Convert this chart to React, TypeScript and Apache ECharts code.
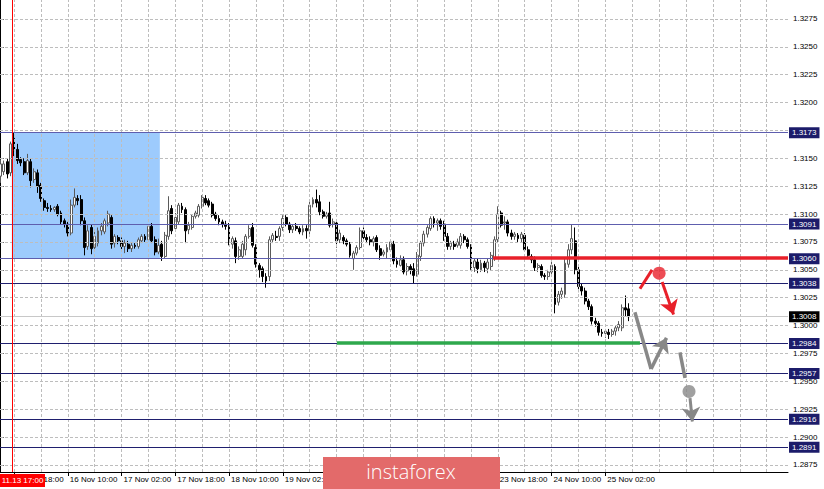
import React, { useEffect, useRef } from "react";
import * as echarts from "echarts";

// [open, close, low, high] per hourly bar
const candles: number[][] = [
  [1.3134,1.3145,1.3128,1.3149],[1.3138,1.3145,1.3135,1.3148],[1.3147,1.3136,1.3132,1.3150],[1.3137,1.3163,1.3134,1.3165],
  [1.3168,1.3157,1.3152,1.3173],[1.3158,1.3148,1.3145,1.3163],[1.3149,1.3146,1.3143,1.3151],[1.3147,1.3137,1.3135,1.3150],
  [1.3137,1.3148,1.3135,1.3154],[1.3147,1.3130,1.3124,1.3150],[1.3131,1.3138,1.3128,1.3141],[1.3137,1.3125,1.3119,1.3140],
  [1.3126,1.3114,1.3111,1.3128],[1.3112,1.3106,1.3103,1.3114],[1.3106,1.3105,1.3102,1.3110],[1.3105,1.3104,1.3102,1.3108],
  [1.3104,1.3106,1.3102,1.3107],[1.3107,1.3100,1.3098,1.3109],[1.3101,1.3093,1.3091,1.3103],[1.3094,1.3091,1.3088,1.3096],
  [1.3091,1.3083,1.3080,1.3093],[1.3083,1.3108,1.3081,1.3113],[1.3108,1.3115,1.3106,1.3123],[1.3114,1.3112,1.3108,1.3117],
  [1.3113,1.3094,1.3090,1.3117],[1.3094,1.3070,1.3063,1.3097],[1.3071,1.3085,1.3068,1.3090],[1.3088,1.3069,1.3064,1.3091],
  [1.3070,1.3080,1.3066,1.3084],[1.3074,1.3085,1.3071,1.3088],[1.3085,1.3089,1.3081,1.3092],[1.3084,1.3094,1.3082,1.3096],
  [1.3092,1.3100,1.3089,1.3103],[1.3097,1.3073,1.3069,1.3099],[1.3074,1.3080,1.3070,1.3082],[1.3079,1.3076,1.3073,1.3081],
  [1.3076,1.3071,1.3068,1.3079],[1.3071,1.3074,1.3065,1.3077],[1.3073,1.3069,1.3066,1.3076],[1.3069,1.3072,1.3066,1.3074],
  [1.3072,1.3071,1.3069,1.3074],[1.3071,1.3077,1.3069,1.3079],[1.3076,1.3080,1.3074,1.3082],[1.3080,1.3077,1.3075,1.3082],
  [1.3077,1.3089,1.3075,1.3091],[1.3089,1.3076,1.3074,1.3092],[1.3077,1.3066,1.3063,1.3080],[1.3066,1.3072,1.3064,1.3078],
  [1.3073,1.3062,1.3058,1.3076],[1.3062,1.3081,1.3060,1.3084],[1.3080,1.3103,1.3077,1.3116],[1.3105,1.3085,1.3082,1.3108],
  [1.3087,1.3097,1.3084,1.3101],[1.3093,1.3108,1.3091,1.3110],[1.3107,1.3104,1.3101,1.3110],[1.3104,1.3085,1.3074,1.3106],
  [1.3086,1.3090,1.3082,1.3093],[1.3088,1.3098,1.3086,1.3100],[1.3098,1.3101,1.3096,1.3103],[1.3099,1.3107,1.3097,1.3109],
  [1.3107,1.3115,1.3105,1.3117],[1.3114,1.3110,1.3108,1.3117],[1.3112,1.3108,1.3106,1.3114],[1.3109,1.3099,1.3097,1.3111],
  [1.3100,1.3096,1.3094,1.3102],[1.3096,1.3093,1.3090,1.3099],[1.3093,1.3091,1.3088,1.3095],[1.3091,1.3089,1.3086,1.3094],
  [1.3090,1.3075,1.3072,1.3092],[1.3073,1.3078,1.3069,1.3080],[1.3076,1.3062,1.3056,1.3079],[1.3062,1.3068,1.3059,1.3071],
  [1.3062,1.3073,1.3060,1.3076],[1.3068,1.3080,1.3063,1.3082],[1.3080,1.3087,1.3078,1.3090],[1.3088,1.3072,1.3070,1.3092],
  [1.3070,1.3055,1.3052,1.3073],[1.3054,1.3050,1.3043,1.3056],[1.3051,1.3044,1.3039,1.3053],[1.3044,1.3040,1.3034,1.3047],
  [1.3044,1.3077,1.3040,1.3080],[1.3077,1.3081,1.3074,1.3083],[1.3080,1.3079,1.3076,1.3085],[1.3080,1.3087,1.3076,1.3089],
  [1.3088,1.3096,1.3085,1.3099],[1.3097,1.3091,1.3089,1.3099],[1.3091,1.3086,1.3083,1.3093],[1.3086,1.3089,1.3083,1.3091],
  [1.3089,1.3087,1.3085,1.3092],[1.3087,1.3084,1.3082,1.3089],[1.3084,1.3087,1.3081,1.3090],[1.3087,1.3085,1.3078,1.3090],
  [1.3085,1.3108,1.3082,1.3111],[1.3109,1.3113,1.3106,1.3115],[1.3113,1.3110,1.3106,1.3122],[1.3111,1.3102,1.3099,1.3117],
  [1.3102,1.3098,1.3096,1.3104],[1.3098,1.3100,1.3096,1.3102],[1.3101,1.3090,1.3088,1.3111],[1.3091,1.3093,1.3088,1.3096],
  [1.3092,1.3076,1.3070,1.3094],[1.3077,1.3083,1.3074,1.3086],[1.3079,1.3076,1.3073,1.3081],[1.3076,1.3073,1.3071,1.3078],
  [1.3073,1.3063,1.3061,1.3075],[1.3060,1.3065,1.3050,1.3067],[1.3065,1.3070,1.3063,1.3072],[1.3070,1.3085,1.3068,1.3088],
  [1.3085,1.3079,1.3076,1.3088],[1.3079,1.3077,1.3074,1.3082],[1.3077,1.3075,1.3072,1.3080],[1.3075,1.3078,1.3071,1.3080],
  [1.3079,1.3068,1.3066,1.3081],[1.3069,1.3063,1.3059,1.3072],[1.3064,1.3066,1.3062,1.3068],[1.3066,1.3070,1.3060,1.3073],
  [1.3068,1.3075,1.3066,1.3077],[1.3073,1.3058,1.3055,1.3076],[1.3058,1.3055,1.3052,1.3061],[1.3054,1.3059,1.3053,1.3063],
  [1.3059,1.3048,1.3046,1.3062],[1.3049,1.3053,1.3045,1.3056],[1.3053,1.3050,1.3046,1.3055],[1.3051,1.3045,1.3038,1.3056],
  [1.3046,1.3063,1.3044,1.3066],[1.3062,1.3074,1.3058,1.3076],[1.3074,1.3082,1.3071,1.3085],[1.3082,1.3088,1.3079,1.3090],
  [1.3087,1.3096,1.3085,1.3098],[1.3096,1.3092,1.3088,1.3098],[1.3092,1.3094,1.3085,1.3096],[1.3094,1.3089,1.3086,1.3096],
  [1.3091,1.3080,1.3076,1.3094],[1.3080,1.3071,1.3068,1.3083],[1.3071,1.3074,1.3068,1.3076],[1.3073,1.3071,1.3068,1.3076],
  [1.3072,1.3075,1.3070,1.3078],[1.3072,1.3080,1.3069,1.3083],[1.3080,1.3077,1.3074,1.3082],[1.3077,1.3071,1.3069,1.3079],
  [1.3071,1.3052,1.3050,1.3073],[1.3052,1.3058,1.3048,1.3060],[1.3057,1.3051,1.3047,1.3060],[1.3050,1.3056,1.3048,1.3059],
  [1.3056,1.3052,1.3048,1.3058],[1.3051,1.3057,1.3047,1.3060],[1.3053,1.3063,1.3049,1.3066],[1.3061,1.3077,1.3058,1.3080],
  [1.3077,1.3100,1.3074,1.3107],[1.3101,1.3090,1.3088,1.3103],[1.3092,1.3093,1.3086,1.3098],[1.3093,1.3083,1.3080,1.3095],
  [1.3083,1.3080,1.3077,1.3086],[1.3080,1.3082,1.3077,1.3084],[1.3081,1.3078,1.3075,1.3083],[1.3078,1.3082,1.3075,1.3084],
  [1.3081,1.3068,1.3066,1.3083],[1.3068,1.3063,1.3060,1.3071],[1.3062,1.3059,1.3056,1.3064],[1.3059,1.3052,1.3049,1.3062],
  [1.3052,1.3054,1.3048,1.3056],[1.3053,1.3045,1.3043,1.3055],[1.3045,1.3044,1.3041,1.3047],[1.3044,1.3048,1.3041,1.3050],
  [1.3048,1.3054,1.3045,1.3058],[1.3053,1.3019,1.3011,1.3055],[1.3021,1.3028,1.3018,1.3031],[1.3028,1.3031,1.3024,1.3034],
  [1.3028,1.3056,1.3025,1.3060],[1.3055,1.3068,1.3052,1.3073],[1.3068,1.3078,1.3064,1.3091],[1.3076,1.3050,1.3046,1.3088],
  [1.3050,1.3035,1.3030,1.3053],[1.3035,1.3031,1.3027,1.3038],[1.3031,1.3022,1.3019,1.3034],[1.3022,1.3017,1.3014,1.3024],
  [1.3017,1.3004,1.3001,1.3019],[1.3004,1.3002,1.2999,1.3007],[1.3002,1.2994,1.2991,1.3004],[1.2994,1.2993,1.2990,1.2997],
  [1.2993,1.2995,1.2989,1.2997],[1.2994,1.2992,1.2988,1.2997],[1.2992,1.2995,1.2990,1.2997],[1.2995,1.2998,1.2991,1.3000],
  [1.2998,1.3001,1.2995,1.3004],[1.2998,1.3016,1.2995,1.3019],[1.3016,1.3014,1.3008,1.3027],[1.3015,1.3008,1.3004,1.3020],
];

const timeLabelBars = [4, 20, 36, 52, 68, 84, 100, 116, 132, 148, 164, 180];
const timeLabels = [
  "13 Nov 18:00", "16 Nov 10:00", "17 Nov 02:00", "17 Nov 18:00", "18 Nov 10:00", "19 Nov 02:00",
  "19 Nov 18:00", "20 Nov 10:00", "23 Nov 02:00", "23 Nov 18:00", "24 Nov 10:00", "25 Nov 02:00",
];
// grid levels (every 25 pips)
const priceTicks = [
  1.2875, 1.29, 1.2925, 1.295, 1.2975, 1.3, 1.3025, 1.305, 1.3075, 1.31, 1.3125, 1.315, 1.3175,
  1.32, 1.3225, 1.325, 1.3275,
];
// labelled ticks (1.3175 is hidden under the 1.3173 level box)
const priceLabels = [
  1.2875, 1.29, 1.2925, 1.295, 1.2975, 1.3, 1.3025, 1.305, 1.3075, 1.31, 1.3125, 1.315,
  1.32, 1.3225, 1.325, 1.3275,
];
const darkLevels = [1.3038, 1.2984, 1.2957, 1.2916, 1.2891];
const lightLevels = [1.3173, 1.3091, 1.306];
const currentPrice = 1.3008;
const cursorBar = 3.35;
const cursorLabel = "11.13 17:00";
const zone = { fromBar: 3.35, toBar: 47.4, top: 1.3173, bottom: 1.306 };
const redLevel = { fromBar: 146.6, price: 1.3061 };
const greenLevel = { fromBar: 100.1, toBar: 190.3, price: 1.2985 };
const redRise = [[190.3, 1.3033], [193.9, 1.305]];
const redDot = [196.0, 1.3047];
const redDrop = [[196.9, 1.3039], [200.3, 1.301]];
const grayDrop1 = [[188.8, 1.3012], [193.6, 1.2961]];
const grayRise = [[193.6, 1.2961], [198.2, 1.2989]];
const grayDrop2 = [[202.2, 1.2976], [203.7, 1.2953]];
const grayDot = [204.9, 1.2941];
const grayDrop3 = [[205.2, 1.2935], [205.9, 1.2914]];

const XMIN = -0.1667;
const XMAX = 234.36;
const YMIN = 1.28687;
const YMAX = 1.3292;

const AX_FONT = "'Liberation Sans', Arial, sans-serif";
const AX_SIZE = 8;

export default function App() {
  const ref = useRef<HTMLDivElement>(null);
  useEffect(() => {
    if (!ref.current) return;
    const chart = echarts.init(ref.current, undefined, { renderer: "svg" });

    const vGrid: number[] = [];
    for (let b = 4; b < XMAX; b += 8) vGrid.push(b);

    const candleTable = candles.map((c, i) => [i, c[0], c[1], c[2], c[3]]);

    const seg = (pts: number[][], color: string, width: number, arrow: boolean) => [
      { coord: pts[0], lineStyle: { color, width, type: "solid" } },
      arrow ? { coord: pts[1], itemStyle: { color } } : { coord: pts[1] },
    ];

    const levelItem = (v: number, color: string, boxColor: string) => ({
      yAxis: v,
      lineStyle: { color, width: 1, type: "solid" },
      label: {
        show: true,
        position: "end",
        distance: 1,
        formatter: v.toFixed(4),
        color: "#ffffff",
        backgroundColor: boxColor,
        padding: [2, 3, 1, 3],
        fontSize: AX_SIZE,
        fontFamily: AX_FONT,
      },
    });

    chart.setOption({
      animation: false,
      backgroundColor: "#ffffff",
      grid: { left: 0, right: 36, top: 0, bottom: 17, containLabel: false },
      xAxis: {
        type: "value",
        min: XMIN,
        max: XMAX,
        splitLine: { show: false },
        axisLine: { show: true, lineStyle: { color: "#000", width: 1 } },
        axisTick: { show: true, customValues: timeLabelBars, length: 4, lineStyle: { color: "#000" } },
        axisLabel: {
          customValues: timeLabelBars,
          formatter: (v: number) => {
            const i = timeLabelBars.indexOf(Math.round(v));
            return i >= 0 ? timeLabels[i] : "";
          },
          align: "left",
          margin: 3,
          padding: [0, 0, 0, 2],
          fontSize: AX_SIZE,
          color: "#000",
          fontFamily: AX_FONT,
        },
      },
      yAxis: {
        type: "value",
        position: "right",
        min: YMIN,
        max: YMAX,
        splitLine: { show: false },
        axisLine: { show: true, lineStyle: { color: "#000", width: 1 } },
        axisTick: { show: true, customValues: priceLabels, length: 3, lineStyle: { color: "#000" } },
        axisLabel: {
          customValues: priceLabels,
          formatter: (v: number) => v.toFixed(4),
          margin: 5,
          fontSize: AX_SIZE,
          color: "#000",
          fontFamily: AX_FONT,
        },
      },
      series: [
        {
          type: "line",
          data: [],
          z: 1,
          silent: true,
          markLine: {
            silent: true,
            precision: 6,
            symbol: "none",
            label: { show: false },
            lineStyle: { color: "#bdbdbd", width: 1, type: [3, 2] },
            data: [
              ...priceTicks.map((v) => ({ yAxis: v })),
              ...vGrid.map((v) => ({ xAxis: v })),
            ],
          },
          markArea: {
            silent: true,
            itemStyle: { color: "#9dcbfd" },
            data: [[{ coord: [zone.fromBar, zone.top] }, { coord: [zone.toBar, zone.bottom] }]],
          },
        },
        {
          type: "line",
          data: [],
          z: 2,
          silent: true,
          markLine: {
            silent: true,
            precision: 6,
            symbol: "none",
            data: [
              ...lightLevels.map((v) => levelItem(v, "#5e5eae", "#1c1c6a")),
              ...darkLevels.map((v) => levelItem(v, "#1f1f6e", "#1c1c6a")),
              levelItem(currentPrice, "#c8c8c8", "#000000"),
            ],
          },
        },
        {
          type: "candlestick",
          data: candleTable,
          encode: { x: 0, y: [1, 2, 3, 4] },
          z: 3,
          barWidth: 2.4,
          itemStyle: {
            color: "#ffffff",
            color0: "#000000",
            borderColor: "#5a5a5a",
            borderColor0: "#000000",
            borderWidth: 1,
          },
        },
        {
          type: "line",
          data: [],
          z: 4,
          silent: true,
          markLine: {
            silent: true,
            precision: 6,
            symbol: "none",
            label: { show: false },
            data: [
              { xAxis: cursorBar, lineStyle: { color: "#ff0000", width: 1, type: "solid" } },
              [
                { coord: [redLevel.fromBar, redLevel.price], lineStyle: { color: "#e8202a", width: 3.5, type: "solid" } },
                { coord: [XMAX, redLevel.price] },
              ],
              [
                { coord: [greenLevel.fromBar, greenLevel.price], lineStyle: { color: "#2ea84c", width: 3.5, type: "solid" } },
                { coord: [greenLevel.toBar, greenLevel.price] },
              ],
            ],
          },
        },
        {
          type: "line",
          data: [],
          z: 5,
          silent: true,
          markLine: {
            silent: true,
            precision: 6,
            symbol: ["none", "none"],
            label: { show: false },
            data: [
              seg(redRise, "#e8202a", 3, false),
              seg(grayDrop1, "#888888", 3.5, false),
              seg(grayDrop2, "#888888", 3.5, false),
            ],
          },
        },
        {
          type: "line",
          data: [],
          z: 5,
          silent: true,
          markLine: {
            silent: true,
            precision: 6,
            symbol: ["none", "arrow"],
            symbolSize: 14,
            label: { show: false },
            data: [
              seg(redDrop, "#e8202a", 3, true),
              seg(grayRise, "#888888", 3.5, true),
              seg(grayDrop3, "#888888", 3, true),
            ],
          },
        },
        {
          type: "scatter",
          z: 6,
          silent: true,
          symbolSize: 13,
          data: [
            { value: redDot, itemStyle: { color: "#e8202a" } },
            { value: grayDot, itemStyle: { color: "#888888" } },
          ],
        },
      ],
      graphic: [
        {
          type: "rect",
          x: 0,
          y: 474,
          z: 100,
          shape: { width: 45, height: 13 },
          style: { fill: "#ff0000" },
        },
        {
          type: "text",
          x: 22.5,
          y: 480.5,
          z: 101,
          style: {
            text: cursorLabel,
            fill: "#ffffff",
            fontSize: AX_SIZE,
            fontFamily: AX_FONT,
            align: "center",
            verticalAlign: "middle",
          },
        },
        {
          type: "rect",
          x: 323,
          y: 457,
          z: 100,
          shape: { width: 177, height: 32 },
          style: { fill: "#e36a6a" },
        },
        {
          type: "text",
          x: 411,
          y: 471,
          z: 101,
          style: {
            text: "instaforex",
            fill: "#ffffff",
            fontSize: 20,
            fontWeight: 300,
            fontFamily: "'Open Sans', Lato, sans-serif",
            align: "center",
            verticalAlign: "middle",
          },
        },
      ],
    });
    return () => chart.dispose();
  }, []);
  return (
    <div
      ref={ref}
      style={{ position: "fixed", left: 0, top: 0, width: 824, height: 489, background: "#fff" }}
    />
  );
}
